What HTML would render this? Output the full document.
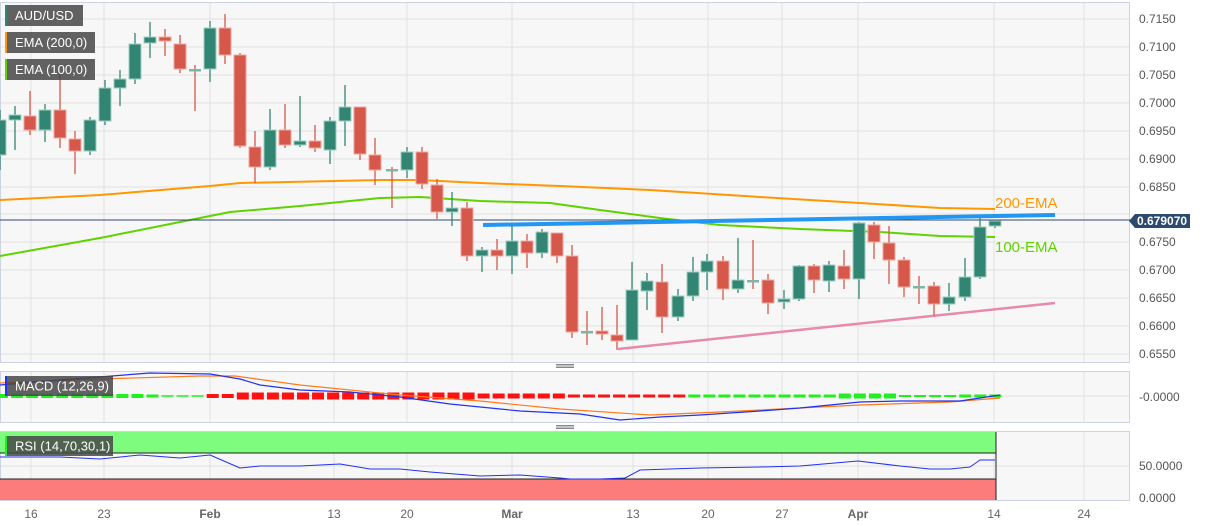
<!DOCTYPE html>
<html><head><meta charset="utf-8">
<style>
html,body{margin:0;padding:0;background:#fff;}
svg{display:block;font-family:"Liberation Sans",sans-serif;}
</style></head>
<body>
<svg id="c" width="1207" height="526" xmlns="http://www.w3.org/2000/svg">
<rect x="0" y="0" width="1207" height="526" fill="#fff"/>
<rect x="0" y="2" width="1130" height="360" fill="#f7f7f7"/>
<rect x="0" y="371" width="1130" height="51" fill="#f7f7f7"/>
<rect x="0" y="431" width="1130" height="69" fill="#f7f7f7"/>
<g id="grid" stroke="#e2e2e2" stroke-width="1"></g>
<g id="lines"></g>
<g id="candles"></g>
<g id="over"></g>
</svg>
<script>
const NS="http://www.w3.org/2000/svg";
function el(p,t,a,txt){const e=document.createElementNS(NS,t);for(const k in a)e.setAttribute(k,a[k]);if(txt!==undefined)e.textContent=txt;document.getElementById(p).appendChild(e);return e;}
// grid
const py=[19,47,75,103,131,159,187,214,242,270,298,326,354];
py.forEach(y=>el('grid','line',{x1:0,x2:1130,y1:y,y2:y}));
const dx=[31,104,210,334,407,512,633,708,782,858,994,1084];
dx.forEach(x=>{el('grid','line',{x1:x,x2:x,y1:2,y2:362});el('grid','line',{x1:x,x2:x,y1:371,y2:422});el('grid','line',{x1:x,x2:x,y1:431,y2:500});});
el('grid','line',{x1:0,x2:1130,y1:396,y2:396});
el('grid','line',{x1:0,x2:1130,y1:466,y2:466});
// panel borders
[[2,362],[371,422],[431,500]].forEach(([a,b])=>el('grid','rect',{x:0.5,y:a+0.5,width:1129,height:b-a,fill:'none',stroke:'#cdd3e0'}));
// handles
[366,427].forEach(y=>{for(let i=0;i<3;i++)el('grid','line',{x1:556,x2:574,y1:y-1.5+i*1.5,y2:y-1.5+i*1.5,stroke:'#888'});});
// price labels
const pl=['0.7150','0.7100','0.7050','0.7000','0.6950','0.6900','0.6850','0.6800','0.6750','0.6700','0.6650','0.6600','0.6550'];
pl.forEach((t,i)=>{if(i!==7)el('over','text',{x:1139,y:py[i]+4,'font-size':12,fill:'#555'},t);});
el('over','text',{x:1139,y:401,'font-size':12,fill:'#555'},'-0.0000');
el('over','text',{x:1139,y:470,'font-size':12,fill:'#555'},'50.0000');
el('over','text',{x:1139,y:502,'font-size':12,fill:'#555'},'0.0000');
const dl=['16','23','Feb','13','20','Mar','13','20','27','Apr','14','24'];
dl.forEach((t,i)=>el('over','text',{x:dx[i],y:518,'font-size':12,fill:'#666','text-anchor':'middle','font-weight':(t.length>2?'bold':'normal')},t));
// RSI bands
el('lines','rect',{x:0,y:432,width:996,height:21,fill:'#7dfc7d'});
el('lines','line',{x1:0,x2:996,y1:453,y2:453,stroke:'#222'});
el('lines','rect',{x:0,y:479,width:996,height:21,fill:'#fc7b7b'});
el('lines','line',{x1:0,x2:996,y1:479,y2:479,stroke:'#222'});
el('lines','line',{x1:996,x2:996,y1:432,y2:500,stroke:'#222'});
function pl_(pts,col,w){el('lines','polyline',{points:pts.map(p=>p.join(',')).join(' '),fill:'none',stroke:col,'stroke-width':w,'stroke-linejoin':'round'});}
// EMAs
pl_([[0,200],[100,195],[210,186],[240,183],[380,180],[420,180],[480,183],[560,186],[650,190],[760,197],[860,203],[940,208],[995,209]],'#ff9800',2);
pl_([[0,256],[100,238],[180,222],[230,212],[300,206],[380,198],[420,197],[480,201],[550,203],[600,210],[660,218],[720,225],[800,229],[880,232],[940,236],[995,237]],'#5fd300',2);
el('lines','line',{x1:0,x2:1130,y1:220,y2:220,stroke:'#2c4a6b','stroke-width':1});
el('lines','line',{x1:483,x2:1055,y1:225,y2:215,stroke:'#2196f3','stroke-width':4});
el('lines','line',{x1:618,x2:1055,y1:349,y2:303,stroke:'#e88aa8','stroke-width':2.5});
// MACD histogram
for(let x=2;x<1000;x+=15.05){let c,h;
 if(x<205){c='#22ee22';h=x<140?4:3;if(x>160)h=1.5;}
 else if(x<680){c='#ff1111';h=x<480?7:5;if(x>560)h=3;if(x<235)h=4;}
 else {c='#22ee22';h=x>840&&x<900?5:3;if(x>900&&x<960)h=2;}
 el('lines','rect',{x:x-6,y:396-h/2,width:12,height:h,fill:c});}
pl_([[0,383],[100,379],[200,376],[235,376],[300,385],[400,395],[480,401],[560,409],[650,415],[720,412],[860,405],[950,402],[1000,398]],'#ff7a1a',1.2);
pl_([[0,385],[60,380],[150,373],[210,374],[240,379],[260,385],[300,390],[350,392],[400,397],[450,404],[520,411],[580,414],[620,420],[660,417],[700,415],[760,411],[800,408],[860,402],[900,401],[960,401],[1000,395]],'#2233ee',1.2);
// RSI line
pl_([[0,457],[60,457],[100,459],[140,455],[180,458],[210,455],[240,468],[260,466],[300,466],[340,464],[370,469],[400,469],[430,472],[480,476],[520,475],[560,478],[570,479],[600,479],[625,478],[640,470],[700,468],[760,467],[800,466],[858,461],[900,466],[930,469],[950,469],[970,467],[980,460],[995,460]],'#2233ee',1);
// candles [x, open, close, high, low] in px (y)
const C=[[0,155,120,110,170],[15,120,115,106,150],[30,116,130,91,135],[45,130,110,104,142],[60,110,138,73,148],[75,139,151,131,174],[90,151,120,117,155],[105,121,88,80,125],[120,88,79,70,106],[135,79,44,33,84],[150,43,37,22,58],[165,37,41,29,56],[180,44,69,35,73],[195,70,70,65,111],[210,69,28,21,82],[225,28,55,14,64],[240,55,146,53,148],[255,147,167,131,183],[270,167,130,109,170],[285,130,145,104,148],[300,145,141,96,147],[315,141,148,125,152],[330,150,121,117,164],[345,121,107,85,146],[360,107,154,107,160],[375,155,170,138,185],[392,170,170,167,208],[407,170,152,147,178],[422,152,184,147,189],[437,185,212,179,219],[452,212,208,192,226],[467,208,256,202,261],[482,256,250,247,272],[497,250,256,239,270],[512,256,241,226,274],[527,241,253,234,268],[542,253,232,229,258],[557,233,256,233,263],[572,256,332,245,338],[587,332,332,311,345],[602,331,334,307,340],[617,335,341,305,350],[632,340,290,262,340],[647,291,281,273,310],[662,282,317,264,333],[678,317,296,289,321],[693,296,272,257,301],[707,272,261,254,290],[723,261,289,256,300],[738,289,280,238,293],[753,281,281,240,289],[768,280,303,274,314],[784,302,299,290,309],[799,299,266,265,301],[814,266,280,264,293],[829,281,265,261,292],[844,266,279,250,289],[859,279,223,222,299],[874,225,242,222,259],[889,243,260,226,284],[904,260,287,257,297],[919,287,287,276,304],[934,286,304,282,316],[949,304,297,283,311],[965,297,277,258,301],[980,277,227,218,279],[995,226,221,220,228]];
C.forEach(([x,o,c,h,l])=>{const up=c<o;const col=up?'#338573':'#d5584a';
 el('candles','line',{x1:x,x2:x,y1:h,y2:l,stroke:col,'stroke-width':1.3});
 const t=Math.min(o,c),b=Math.max(o,c);
 if(b-t<1.5) el('candles','rect',{x:x-6,y:t-1,width:12,height:2.5,fill:up||o===c?'#7fb5a8':col});
 else el('candles','rect',{x:x-6,y:t,width:12,height:b-t,fill:col,stroke:up?'#9fcfc2':'#f0a9a0','stroke-width':1});});
// EMA labels
el('over','text',{x:995,y:208,'font-size':15,fill:'#ff9800'},'200-EMA');
el('over','text',{x:995,y:252,'font-size':15,fill:'#5fd300'},'100-EMA');
// price tag
el('over','polygon',{points:'1129,221 1135,214 1190,214 1190,228 1135,228',fill:'#2c4a6e'});
el('over','text',{x:1137,y:225,'font-size':12,'font-weight':'bold',fill:'#fff'},'0.679070');
// legends
function lg(x,y,w,h,bc,t){el('over','rect',{x:x,y:y,width:w,height:h,fill:'rgba(70,70,70,0.85)'});el('over','rect',{x:x,y:y,width:2,height:h,fill:bc});el('over','text',{x:x+10,y:y+h/2+4.5,'font-size':13,fill:'#fff'},t);}
lg(5,5,78,21,'#338573','AUD/USD');
lg(5,32,90,21,'#ff9800','EMA (200,0)');
lg(5,59,90,21,'#5fd300','EMA (100,0)');
lg(5,376,108,20,'#2233ee','MACD (12,26,9)');
lg(5,436,108,20,'#22ee22','RSI (14,70,30,1)');
</script>
</body></html>
